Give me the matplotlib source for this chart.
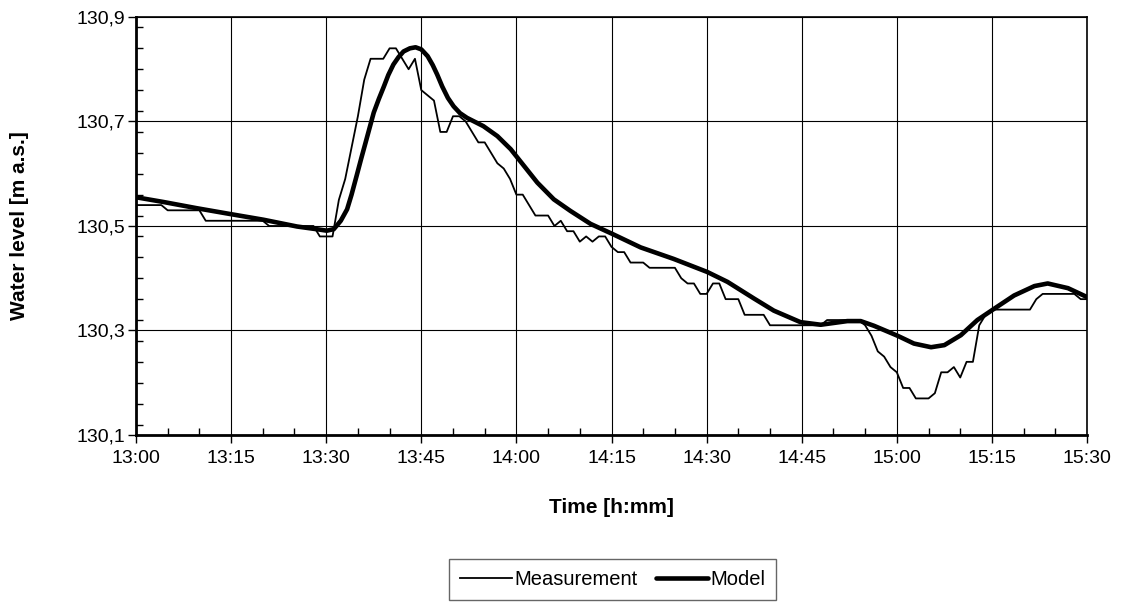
import numpy as np
import matplotlib
matplotlib.use("Agg")
import matplotlib.pyplot as plt
from matplotlib.ticker import MultipleLocator, FixedLocator

plt.rcParams['font.family'] = ['Liberation Sans', 'DejaVu Sans']

# minutes after 13:00, one reading per minute
measMinutes = list(range(0, 151))
measLevel = [
    130.54, 130.54, 130.54, 130.54, 130.54,
    130.53, 130.53, 130.53, 130.53, 130.53, 130.53,
    130.51, 130.51, 130.51, 130.51, 130.51, 130.51, 130.51, 130.51, 130.51, 130.51,
    130.50, 130.50, 130.50, 130.50, 130.50, 130.50, 130.50, 130.50,
    130.48, 130.48, 130.48,
    130.55, 130.59, 130.65, 130.71, 130.78, 130.82, 130.82, 130.82, 130.84, 130.84,
    130.82, 130.80, 130.82, 130.76, 130.75, 130.74, 130.68, 130.68, 130.71, 130.71,
    130.70, 130.68, 130.66, 130.66, 130.64, 130.62, 130.61, 130.59, 130.56, 130.56,
    130.54, 130.52, 130.52, 130.52, 130.50, 130.51, 130.49, 130.49, 130.47, 130.48,
    130.47, 130.48, 130.48, 130.46, 130.45, 130.45, 130.43, 130.43, 130.43, 130.42,
    130.42, 130.42, 130.42, 130.42,
    130.40, 130.39, 130.39, 130.37, 130.37, 130.39, 130.39, 130.36, 130.36, 130.36,
    130.33, 130.33, 130.33, 130.33,
    130.31, 130.31, 130.31, 130.31, 130.31, 130.31, 130.31, 130.31, 130.31,
    130.32, 130.32, 130.32, 130.32, 130.32, 130.32,
    130.31, 130.29, 130.26, 130.25, 130.23, 130.22, 130.19, 130.19, 130.17, 130.17,
    130.17, 130.18, 130.22, 130.22, 130.23, 130.21, 130.24, 130.24, 130.31, 130.33,
    130.34,
    130.34, 130.34, 130.34, 130.34, 130.34, 130.34,
    130.36, 130.37,
    130.37, 130.37, 130.37, 130.37, 130.37,
    130.36, 130.36,
]

modelMinutes = [0, 4.3, 9.6, 14.8, 20.1, 25.4, 29.0, 30.1, 31.2, 32.3, 33.3, 34.0,
                34.8, 35.5, 36.2, 37.5, 38.3, 39.1, 39.8, 40.6, 41.4, 42.2, 43.2,
                44.1, 45.0, 46.0, 46.8, 47.5, 48.3, 49.2, 50.1, 51.1, 52.2, 53.5,
                54.8, 57.0, 59.1, 61.2, 63.3, 65.9, 68.5, 71.7, 75.1, 79.6, 84.8,
                90.1, 93.3, 95.4, 97.5, 100.6, 104.8, 108, 112.2, 114.3, 116.4,
                120.1, 122.7, 125.4, 127.5, 130.1, 132.7, 135.4, 138.5, 141.7,
                143.8, 147, 150]
modelLevel = [130.555, 130.546, 130.534, 130.523, 130.512, 130.499, 130.493, 130.491,
              130.494, 130.51, 130.532, 130.560, 130.596, 130.628, 130.659, 130.717,
              130.743, 130.767, 130.789, 130.809, 130.823, 130.834, 130.840, 130.842,
              130.838, 130.825, 130.808, 130.790, 130.767, 130.745, 130.729, 130.716,
              130.707, 130.699, 130.691, 130.672, 130.647, 130.615, 130.583, 130.551,
              130.529, 130.504, 130.485, 130.459, 130.437, 130.412, 130.393, 130.377,
              130.361, 130.338, 130.316, 130.311, 130.318, 130.318, 130.309, 130.29,
              130.275, 130.268, 130.272, 130.291, 130.32, 130.342, 130.367, 130.385,
              130.39, 130.381, 130.364]

xTicks = [0, 15, 30, 45, 60, 75, 90, 105, 120, 135, 150]
xTickLabels = ["13:00", "13:15", "13:30", "13:45", "14:00", "14:15", "14:30",
               "14:45", "15:00", "15:15", "15:30"]
yTicks = [130.1, 130.3, 130.5, 130.7, 130.9]
yTickLabels = ["130,1", "130,3", "130,5", "130,7", "130,9"]

fig = plt.figure(figsize=(11.21, 6.04), dpi=100)
ax = fig.add_axes([0.1213, 0.2798, 0.8484, 0.6921])

ax.plot(measMinutes, measLevel, color='black', lw=1.3, label='Measurement', zorder=3)
ax.plot(modelMinutes, modelLevel, color='black', lw=3.3, label='Model', zorder=4,
        solid_joinstyle='round', solid_capstyle='round')

ax.set_xlim(0, 150)
ax.set_ylim(130.1, 130.9)

ax.xaxis.set_major_locator(FixedLocator(xTicks))
ax.set_xticklabels(xTickLabels)
ax.xaxis.set_minor_locator(MultipleLocator(5))
ax.yaxis.set_major_locator(FixedLocator(yTicks))
ax.set_yticklabels(yTickLabels)
ax.yaxis.set_minor_locator(MultipleLocator(0.04))

ax.tick_params(which='major', direction='out', length=6, width=1, labelsize=14)
ax.tick_params(which='minor', direction='in', length=5, width=1)
ax.tick_params(axis='x', pad=5)
ax.tick_params(axis='y', pad=2)

ax.grid(True, which='major', color='black', lw=0.8)
ax.set_axisbelow(True)

for side in ['left', 'bottom']:
    ax.spines[side].set_linewidth(2)
for side in ['top', 'right']:
    ax.spines[side].set_linewidth(1.2)

ax.set_xlabel("Time [h:mm]", fontsize=15, fontweight='bold')
ax.set_ylabel("Water level [m a.s.]", fontsize=15, fontweight='bold')
ax.xaxis.set_label_coords(0.5, -0.15)
ax.yaxis.set_label_coords(-0.113, 0.5)

leg = fig.legend(loc='center', bbox_to_anchor=(0.5465, 0.04), ncol=2, fontsize=14.5,
                 frameon=True, fancybox=False, edgecolor='#404040',
                 handlelength=2.6, handletextpad=0.1, columnspacing=0.9,
                 borderpad=0.55)
leg.get_frame().set_linewidth(1)

fig.savefig("out.png", dpi=100)
